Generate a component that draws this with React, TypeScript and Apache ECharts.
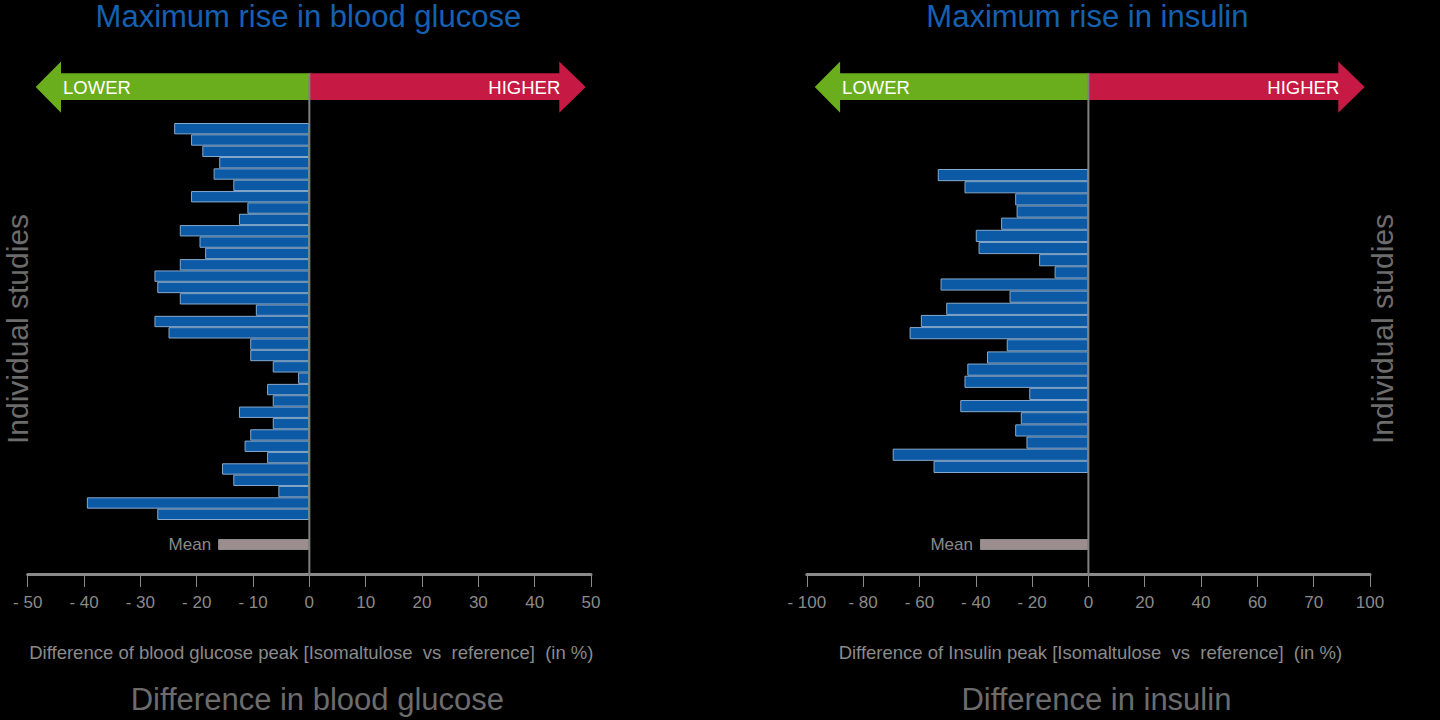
import React, { useEffect, useRef } from "react";
import * as echarts from "echarts";

// ---- data ----
const glucoseStudies: number[] = [
  -24, -21, -19, -16, -17, -13.5, -21, -11, -12.5, -23, -19.5, -18.5, -23, -27.5, -27, -23, -9.5,
  -27.5, -25, -10.5, -10.5, -6.5, -2, -7.5, -6.5, -12.5, -6.5, -10.5, -11.5, -7.5, -15.5, -13.5,
  -5.5, -39.5, -27,
];
const glucoseMean: number[] = [-16.2];
const insulinStudies: number[] = [
  -53.5, -44, -26, -25.5, -31, -40, -39, -17.5, -12, -52.5, -28, -50.5, -59.5, -63.5, -29, -36,
  -43, -44, -21, -45.5, -24, -26, -22, -69.5, -55,
];
const insulinMean: number[] = [-38.5];

const glucoseIds = glucoseStudies.map((_, i) => "Study " + (i + 1));
const insulinIds = insulinStudies.map((_, i) => "Study " + (i + 1));
const meanIds = ["Mean"];

const glucoseTickLabels = ["- 50", "- 40", "- 30", "- 20", "- 10", "0", "10", "20", "30", "40", "50"];
const insulinTickLabels = ["- 100", "- 80", "- 60", "- 40", "- 20", "0", "20", "40", "60", "70", "100"];

const panelTitles = ["Maximum rise in blood glucose", "Maximum rise in insulin"];
const axisNames = [
  "Difference of blood glucose peak [Isomaltulose  vs  reference]  (in %)",
  "Difference of Insulin peak [Isomaltulose  vs  reference]  (in %)",
];
const panelFooters = ["Difference in blood glucose", "Difference in insulin"];
const sideLabel = "Individual studies";
const arrowWords = ["LOWER", "HIGHER"];

// ---- styles ----
const FONT = "'Liberation Sans', Arial, sans-serif";
const BAR_FILL = "#0c59a6";
const BAR_BORDER = "#86aacd";
const MEAN_FILL = "#9c8e8e";
const GRAY_AXIS = "#8a8a8a";
const GRAY_TEXT = "#8a8a8a";
const GRAY_BIG = "#6c6c6c";
const TITLE_BLUE = "#1560b2";
const GREEN = "#6aae1e";
const RED = "#c61a44";

export default function App() {
  const ref = useRef<HTMLDivElement>(null);

  useEffect(() => {
    if (!ref.current) return;
    const chart = echarts.init(ref.current, null, { renderer: "svg" });

    const tickFmt = (labels: string[], min: number, step: number) => (v: number) => {
      const idx = Math.round((v - min) / step);
      return labels[idx] ?? String(v);
    };

    const hiddenX = (gridIndex: number, min: number, max: number, interval: number) => ({
      type: "value",
      gridIndex,
      min,
      max,
      interval,
      show: false,
      splitLine: { show: false },
    });
    const shownX = (gridIndex: number, min: number, max: number, interval: number, labels: string[]) => ({
      type: "value",
      gridIndex,
      min,
      max,
      interval,
      position: "bottom",
      offset: 24,
      splitLine: { show: false },
      axisLine: { show: true, onZero: false, lineStyle: { color: GRAY_AXIS, width: 3 } },
      axisTick: { show: true, length: 13, lineStyle: { color: GRAY_AXIS, width: 1 } },
      axisLabel: {
        margin: 20,
        color: GRAY_TEXT,
        fontSize: 17,
        fontFamily: FONT,
        formatter: tickFmt(labels, min, interval),
      },
    });
    const catY = (gridIndex: number, data: string[]) => ({
      type: "category",
      gridIndex,
      data,
      inverse: true,
      show: false,
    });
    const studyBar = (xi: number, data: number[]) => ({
      type: "bar",
      xAxisIndex: xi,
      yAxisIndex: xi,
      data,
      barWidth: "100%",
      silent: true,
      itemStyle: { color: BAR_FILL, borderColor: BAR_BORDER, borderWidth: 1 },
    });
    const meanBar = (xi: number, data: number[]) => ({
      type: "bar",
      xAxisIndex: xi,
      yAxisIndex: xi,
      data,
      barWidth: "100%",
      silent: true,
      itemStyle: { color: MEAN_FILL, borderColor: "#8c8c8c", borderWidth: 1 },
      label: {
        show: true,
        position: "left",
        distance: 7,
        formatter: "Mean",
        color: GRAY_TEXT,
        fontSize: 17,
        fontFamily: FONT,
      },
    });

    chart.setOption({
      animation: false,
      backgroundColor: "#000000",
      grid: [
        { left: 27.7, top: 123, width: 563.3, height: 397 },
        { left: 27.7, top: 539, width: 563.3, height: 11 },
        { left: 806.8, top: 169, width: 563.2, height: 304 },
        { left: 806.8, top: 539, width: 563.2, height: 11 },
      ],
      xAxis: [
        hiddenX(0, -50, 50, 10),
        shownX(1, -50, 50, 10, glucoseTickLabels),
        hiddenX(2, -100, 100, 20),
        shownX(3, -100, 100, 20, insulinTickLabels),
      ],
      yAxis: [catY(0, glucoseIds), catY(1, meanIds), catY(2, insulinIds), catY(3, meanIds)],
      series: [
        studyBar(0, glucoseStudies),
        meanBar(1, glucoseMean),
        studyBar(2, insulinStudies),
        meanBar(3, insulinMean),
      ],
    });

    const px = (axis: number, v: number) => chart.convertToPixel({ xAxisIndex: axis }, v) as number;

    const bodyTop = 73.3;
    const bodyBot = 100;
    const headTop = 61.5;
    const headBot = 112.7;
    const midY = 87;
    const axisY = 576;

    const elements: any[] = [];
    const panels = [
      { axis: 1, min: -50, max: 50 },
      { axis: 3, min: -100, max: 100 },
    ];
    panels.forEach((p, i) => {
      const x0 = px(p.axis, 0);
      const xMin = px(p.axis, p.min);
      const xMax = px(p.axis, p.max);
      const lHead = xMin + 33.3;
      const rHead = xMax - 31.7;
      elements.push({
        type: "polygon",
        z: 10,
        shape: {
          points: [
            [xMin + 8, midY],
            [lHead, headTop],
            [lHead, bodyTop],
            [x0, bodyTop],
            [x0, bodyBot],
            [lHead, bodyBot],
            [lHead, headBot],
          ],
        },
        style: { fill: GREEN },
      });
      elements.push({
        type: "polygon",
        z: 10,
        shape: {
          points: [
            [x0, bodyTop],
            [rHead, bodyTop],
            [rHead, headTop],
            [xMax - 5.3, midY],
            [rHead, headBot],
            [rHead, bodyBot],
            [x0, bodyBot],
          ],
        },
        style: { fill: RED },
      });
      elements.push({
        type: "text",
        z: 12,
        x: lHead + 2,
        y: midY,
        style: { text: arrowWords[0], fill: "#ffffff", fontSize: 18.5, fontFamily: FONT, align: "left", verticalAlign: "middle" },
      });
      elements.push({
        type: "text",
        z: 12,
        x: rHead + 1,
        y: midY,
        style: { text: arrowWords[1], fill: "#ffffff", fontSize: 18.5, fontFamily: FONT, align: "right", verticalAlign: "middle" },
      });
      elements.push({
        type: "line",
        z: 20,
        shape: { x1: x0, y1: bodyTop, x2: x0, y2: axisY },
        style: { stroke: "#808080", lineWidth: 2 },
      });
      elements.push({
        type: "text",
        z: 12,
        x: x0 - 1,
        y: 16,
        style: { text: panelTitles[i], fill: TITLE_BLUE, fontSize: 31, fontFamily: FONT, align: "center", verticalAlign: "middle" },
      });
      elements.push({
        type: "text",
        z: 12,
        x: x0 + 2,
        y: 652,
        style: { text: axisNames[i], fill: GRAY_TEXT, fontSize: 18.5, fontFamily: FONT, align: "center", verticalAlign: "middle" },
      });
      elements.push({
        type: "text",
        z: 12,
        x: x0 + 8,
        y: 699,
        style: { text: panelFooters[i], fill: GRAY_BIG, fontSize: 31, fontFamily: FONT, align: "center", verticalAlign: "middle" },
      });
    });
    [17, 1382].forEach((x) => {
      elements.push({
        type: "text",
        z: 12,
        x,
        y: 329,
        rotation: Math.PI / 2,
        style: { text: sideLabel, fill: GRAY_BIG, fontSize: 30, fontFamily: FONT, align: "center", verticalAlign: "middle" },
      });
    });

    chart.setOption({ graphic: { elements } });

    return () => chart.dispose();
  }, []);

  return (
    <div
      ref={ref}
      style={{ position: "fixed", left: 0, top: 0, width: 1440, height: 720, background: "#000" }}
    />
  );
}
